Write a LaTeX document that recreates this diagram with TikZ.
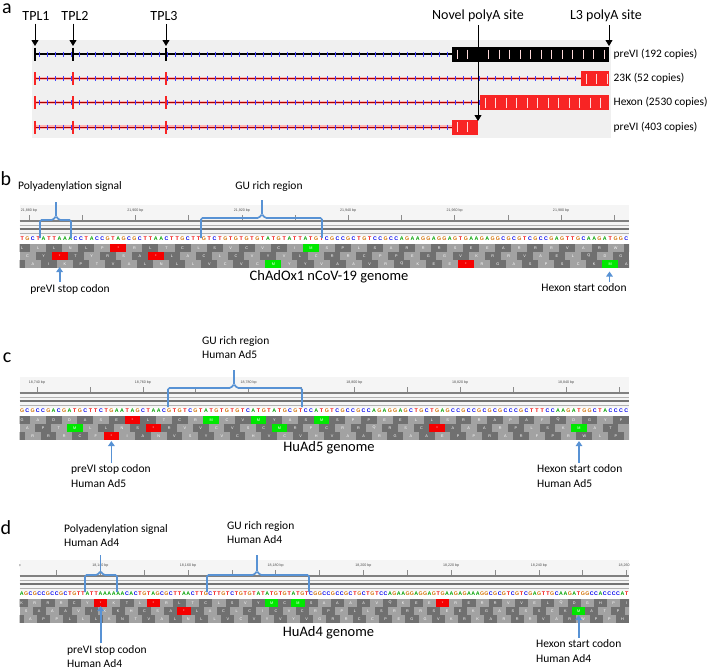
\documentclass[tikz,border=0pt]{standalone}
\usepackage{fontspec}
\setmainfont{Carlito}
\newfontfamily\seqfont{Liberation Sans}
\usetikzlibrary{arrows.meta}
\definecolor{baseA}{RGB}{0,160,0}
\definecolor{baseC}{RGB}{0,0,235}
\definecolor{baseG}{RGB}{209,113,5}
\definecolor{baseT}{RGB}{240,0,0}
\definecolor{codon0}{RGB}{112,112,112}
\definecolor{codon1}{RGB}{162,162,162}
\definecolor{stopred}{RGB}{245,0,0}
\definecolor{metgreen}{RGB}{0,232,0}
\definecolor{braceblue}{RGB}{88,146,212}
\definecolor{trackred}{RGB}{248,36,36}
\definecolor{intronblue}{RGB}{60,60,255}
\tikzset{
  panellabel/.style={font=\fontsize{20}{20}\selectfont, inner sep=0pt},
  tplabel/.style  ={font=\fontsize{14}{16}\selectfont, inner sep=1pt},
  copylabel/.style={font=\fontsize{11.4}{14}\selectfont, anchor=west, inner sep=0.5pt},
  note/.style     ={font=\fontsize{11.5}{14.5}\selectfont, align=left, inner sep=1pt},
  genomelab/.style={font=\fontsize{14.5}{16}\selectfont, inner sep=1pt},
  blkarrow/.style ={-{Triangle[length=6pt,width=7pt]}, line width=0.8pt, black, shorten <=2pt},
  codonarrow/.style={-{Triangle[length=5pt,width=6.5pt]}, line width=1.8pt, braceblue, shorten <=1pt},
  brace/.style    ={draw=braceblue, line width=1.7pt, rounded corners=1.5pt},
  trackbg/.style  ={fill=black!6},
  intronblk/.style={line width=1.1pt, black},
  intronhalo/.style={line width=3.6pt, red!30},
  intronred/.style={line width=0.7pt, red!65!black},
  introntick/.style={line width=0.45pt, intronblue},
  exonblk/.style  ={black},
  exonred/.style  ={trackred},
  exonbox/.style  ={fill=trackred},
  boxmark/.style  ={line width=0.5pt, white!85!red},
  rulerbg/.style  ={fill=black!4},
  rulertick/.style={draw=black!45, line width=0.5pt},
  rulerlab/.style ={font=\seqfont\fontsize{3.6}{4}\selectfont, text=black!70, inner sep=0pt},
  rulerline/.style={black!50, line width=1.1pt},
  rulerthin/.style={black!30, line width=0.5pt},
  rulerband/.style={black!55, line width=2.2pt},
  base/.style     ={font=\seqfont\bfseries\fontsize{5.3}{5}\selectfont, inner sep=0pt},
  codon/.style    ={minimum height=8pt, inner sep=0pt, text=white,
                    font=\seqfont\fontsize{3.8}{4}\selectfont},
  aa*/.style={fill=stopred},
  aaM/.style={fill=metgreen},
  aa-/.style={text opacity=0},
}
% sequence track: #1 y of bases, #2 pitch, #3 bases, #4-#6 frames, #7 first tick, #8 tick step, #9 ruler labels
\newcommand\seqtrack[9]{%
  \begin{scope}
    \clip (19.5,#1-34) rectangle (629,#1+29);
    \fill[rulerbg] (19.5,#1-34) rectangle (629,#1-3);
    \foreach \j in {0,...,15}
      \draw[rulertick] ({#7+\j*#8},#1-24) -- ++(0,6);
    \foreach \lab [count=\j from 0] in {#9}
      \node[rulerlab] (tick-#1-\j) at ({#7+2*\j*#8},#1-28) {\lab};
    \draw[rulerline] (19.5,#1-18) -- (629,#1-18);
    \draw[rulerthin] (19.5,#1-13.5) -- (629,#1-13.5);
    \draw[rulerband] (19.5,#1-10) -- (629,#1-10);
    \draw[rulerthin] (19.5,#1-6) -- (629,#1-6);
    \foreach \b [count=\i] in #3
      \node[base, text=base\b] (nt-#1-\i) at ({19.5+(\i-0.5)*#2},#1) {\b};
    \foreach \a [count=\k from 0] in #4 {
      \pgfmathtruncatemacro\sh{mod(\k,2)}
      \node[codon, minimum width=3*#2, fill=codon\sh, aa\a/.try] (aa-#1-1-\k) at ({19.5+(3*\k+0.5)*#2},#1+9) {\a};
    }
    \foreach \a [count=\k from 0] in #5 {
      \pgfmathtruncatemacro\sh{mod(\k+1,2)}
      \node[codon, minimum width=3*#2, fill=codon\sh, aa\a/.try] (aa-#1-2-\k) at ({19.5+(3*\k+1.5)*#2},#1+17) {\a};
    }
    \foreach \a [count=\k from 0] in #6 {
      \pgfmathtruncatemacro\sh{mod(\k,2)}
      \node[codon, minimum width=3*#2, fill=codon\sh, aa\a/.try] (aa-#1-3-\k) at ({19.5+(3*\k-0.5)*#2},#1+25) {\a};
    }
  \end{scope}}
% ChAdOx1
\def\seqB{T,G,C,T,A,T,T,A,A,A,C,C,T,A,C,C,G,T,A,G,C,G,C,T,T,A,A,C,T,T,%
G,C,T,T,G,T,C,T,G,T,G,T,G,T,G,T,A,T,G,T,A,T,T,A,T,G,T,C,G,C,%
C,G,C,T,G,T,C,C,G,C,C,A,G,A,A,G,G,A,G,G,A,G,T,G,A,A,G,A,G,G,%
C,G,C,G,T,C,G,C,C,G,A,G,T,T,G,C,A,A,G,A,T,G,G,C}
\def\rowBa{L,L,L,N,L,P,*,R,L,T,C,L,S,V,C,V,C,I,M,S,P,L,S,A,R,R,R,S,E,E,A,R,R,R,V,A,R,W,-}
\def\rowBb{C,Y,*,T,Y,R,S,A,*,L,A,C,L,C,V,Y,V,L,C,R,R,C,P,P,E,G,G,V,K,R,R,V,A,E,L,Q,D,G}
\def\rowBc{-,A,I,K,P,T,V,A,L,N,L,L,V,C,V,C,M,Y,Y,V,A,A,V,R,Q,K,E,E,*,R,G,A,S,P,S,C,K,M,A}
% HuAd5
\def\seqC{G,C,G,C,C,G,A,C,G,A,T,G,C,T,T,C,T,G,A,A,T,A,G,C,T,A,A,C,G,T,%
G,T,C,G,T,A,T,G,T,G,T,G,T,C,A,T,G,T,A,T,G,C,G,T,C,C,A,T,G,T,%
C,G,C,C,G,C,C,A,G,A,G,G,A,G,C,T,G,C,T,G,A,G,C,C,G,C,C,G,C,G,%
C,G,C,C,C,G,C,T,T,T,C,C,A,A,G,A,T,G,G,C,T,A,C,C,C,C}
\def\rowCa{G,A,D,D,A,S,E,*,L,T,C,R,M,C,V,M,Y,A,S,M,S,P,P,E,E,L,L,S,R,R,A,P,A,F,Q,D,G,Y,P}
\def\rowCb{A,P,T,M,L,L,N,S,*,R,V,V,C,V,S,C,M,R,P,C,R,R,Q,R,S,C,*,A,A,A,R,P,L,S,K,M,A,T,-}
\def\rowCc{-,R,R,R,C,F,*,I,A,N,V,S,Y,V,C,H,V,C,V,H,V,A,A,R,G,A,A,E,P,P,R,A,R,F,P,R,W,L,P,-}
% HuAd4
\def\seqD{A,G,C,G,C,C,G,C,C,G,C,T,G,T,T,A,T,T,A,A,A,A,A,A,C,A,C,T,G,T,%
A,G,C,G,C,T,T,A,A,C,T,T,G,C,T,T,G,T,C,T,G,T,G,T,A,T,A,T,G,T,%
G,T,A,T,G,T,C,G,G,C,C,G,C,C,G,C,T,G,C,T,G,T,C,C,A,G,A,A,G,G,%
A,G,G,A,G,T,G,A,A,G,A,G,A,A,A,G,G,C,G,C,G,T,C,G,T,C,G,A,G,T,%
T,G,C,A,A,G,A,T,G,G,C,C,A,C,C,C,C,A,T}
\def\rowDa{K,R,R,R,C,Y,*,K,T,L,*,R,L,T,C,L,S,V,Y,M,C,M,S,A,A,A,A,V,Q,K,E,E,*,R,E,R,R,V,V,E,L,Q,D,G,H,P,I}
\def\rowDb{S,A,A,A,V,I,K,K,H,C,S,A,*,L,A,C,L,C,I,C,V,C,R,P,P,L,L,S,R,R,R,S,E,E,K,G,A,S,S,S,C,K,M,A,T,P,-}
\def\rowDc{-,A,P,P,L,L,L,K,N,T,V,A,L,N,L,L,V,C,V,Y,V,Y,V,G,R,R,C,C,P,E,G,G,V,K,R,K,A,R,R,R,V,A,R,W,P,P,H}
\begin{document}
\begin{tikzpicture}[x=1pt, y=-1pt]
\useasboundingbox (0,0) rectangle (709,670);
% ---------- a: transcripts
\node[panellabel] (pa) at (7,9) {a};
\fill[trackbg] (32,40) rectangle (611,138);
\draw[intronblk] (35,54) -- (452,54);
\foreach \x in {39,47,...,447} \draw[introntick] (\x,51.5) -- (\x,56.5);
\foreach \x/\w in {35/1.2,73/2.6,166/2.6} \draw[exonblk, line width=\w pt] (\x,47.5) -- (\x,60.5);
\fill[black] (452,46.5) rectangle (609,61.5);
\foreach \x in {457,467.5,...,605} \draw[boxmark] (\x,49.5) -- (\x,58.5);
\foreach \ty/\xe in {78.5/581,102.5/480,127/452} {
  \draw[intronhalo] (34,\ty) -- (\xe,\ty);
  \draw[intronred] (34,\ty) -- (\xe,\ty);
  \foreach \x in {39,47,...,575} {\ifdim\x pt<\xe pt \draw[introntick] (\x,\ty-2.5) -- (\x,\ty+2.5);\fi}
  \foreach \x/\w in {35/1.2,73/2.6,166/2.6} \draw[exonred, line width=\w pt] (\x,\ty-6.5) -- (\x,\ty+6.5);
}
\foreach \ty/\xs/\xe in {78.5/581/609,102.5/480/609,127/452/478} {
  \fill[exonbox] (\xs,\ty-7.5) rectangle (\xe,\ty+7.5);
  \foreach \x in {5,15.5,...,160} {\pgfmathsetmacro\xm{\xs+\x}\ifdim\xm pt<\xe pt \draw[boxmark] (\xm,\ty-5) -- (\xm,\ty+5);\fi}
}
\node[copylabel] (cp1) at (613,54)    {preVI (192 copies)};
\node[copylabel] (cp2) at (613,78.5)  {23K (52 copies)};
\node[copylabel] (cp3) at (613,102.5) {Hexon (2530 copies)};
\node[copylabel] (cp4) at (613,127)   {preVI (403 copies)};
\node[tplabel] (tpl1)  at (36,16)  {TPL1};
\node[tplabel] (tpl2)  at (75,16)  {TPL2};
\node[tplabel] (tpl3)  at (164,16) {TPL3};
\node[tplabel] (novel) at (478,16) {Novel polyA site};
\node[tplabel] (lthree) at (606,16) {L3 polyA site};
\coordinate (tpl1tip) at (35,46);
\coordinate (tpl2tip) at (73,46);
\coordinate (tpl3tip) at (166,46);
\coordinate (novtip)  at (478,121);
\coordinate (l3tip)   at (609,46);
\draw[blkarrow] (tpl1.south -| tpl1tip) -- (tpl1tip);
\draw[blkarrow] (tpl2.south -| tpl2tip) -- (tpl2tip);
\draw[blkarrow] (tpl3.south -| tpl3tip) -- (tpl3tip);
\draw[blkarrow] (novel.south -| novtip) -- (novtip);
\draw[blkarrow] (lthree.south -| l3tip) -- (l3tip);
% ---------- b: ChAdOx1
\node[panellabel] (pb) at (6,179) {b};
\seqtrack{239}{5.346}{\seqB}{\rowBa}{\rowBb}{\rowBc}{29}{53.2}{{21,880 bp},{21,900 bp},{21,920 bp},{21,940 bp},{21,960 bp},{21,980 bp}}
\node[note] (bpoly) at (70,186)  {Polyadenylation signal};
\node[note] (bgu)   at (269,186) {GU rich region};
\draw[brace] (40,238) -- (40,220) -- (53,220) -- (56,216) -- (59,220) -- (71,220) -- (71,238);
\draw[brace] (56,216) -- (56,202);
\draw[brace] (201,238) -- (201,218) -- (259,218) -- (262,214) -- (265,218) -- (322,218) -- (322,238);
\draw[brace] (262,214) -- (262,200);
\node[genomelab] (bgen) at (329,277) {ChAdOx1 nCoV-19 genome};
\node[note] (bstop) at (70,289)  {preVI stop codon};
\node[note] (bhex)  at (584,288) {Hexon start codon};
\coordinate (bstoptip) at (59.6,267);
\coordinate (bhextip)  at (609.5,271.5);
\draw[codonarrow] (bstop.north -| bstoptip) -- (bstoptip);
\draw[codonarrow] (bhex.north -| bhextip) -- (bhextip);
% ---------- c: HuAd5
\node[panellabel] (pc) at (7,358) {c};
\seqtrack{411}{5.254}{\seqC}{\rowCa}{\rowCb}{\rowCc}{37}{52.9}{{18,740 bp},{18,760 bp},{18,780 bp},{18,800 bp},{18,820 bp},{18,840 bp}}
\node[note, anchor=west] (cgu) at (201,347.5) {GU rich region\\Human Ad5};
\draw[brace] (168,407) -- (168,388) -- (231,388) -- (234,384) -- (237,388) -- (302,388) -- (302,407);
\draw[brace] (234,384) -- (234,370);
\node[genomelab] (cgen) at (329,448) {HuAd5 genome};
\node[note, anchor=west] (cstop) at (70,476)  {preVI stop codon\\Human Ad5};
\node[note, anchor=west] (chex)  at (536,476) {Hexon start codon\\Human Ad5};
\coordinate (cstoptip) at (111.4,441);
\coordinate (chextip)  at (579,441);
\draw[codonarrow] (cstop.north -| cstoptip) -- (cstoptip);
\draw[codonarrow] (chex.north -| chextip) -- (chextip);
% ---------- d: HuAd4
\node[panellabel] (pd) at (6,528) {d};
\seqtrack{594}{4.385}{\seqD}{\rowDa}{\rowDb}{\rowDc}{12.6}{43.85}{{18,120 bp},{18,140 bp},{18,160 bp},{18,180 bp},{18,200 bp},{18,220 bp},{18,240 bp},{18,260 bp}}
\node[note, anchor=west] (dpoly) at (63,535.5)  {Polyadenylation signal\\Human Ad4};
\node[note, anchor=west] (dgu)   at (226,532.5) {GU rich region\\Human Ad4};
\draw[brace] (85,592) -- (85,575) -- (97.5,575) -- (100.5,571) -- (103.5,575) -- (117,575) -- (117,592);
\draw[brace] (100.5,571) -- (100.5,555);
\draw[brace] (207,592) -- (207,575) -- (254,575) -- (257,571) -- (260,575) -- (309,575) -- (309,592);
\draw[brace] (257,571) -- (257,555);
\node[genomelab] (dgen) at (328.5,633) {HuAd4 genome};
\node[note, anchor=west] (dstop) at (66,656.5)  {preVI stop codon\\Human Ad4};
\node[note, anchor=west] (dhex)  at (535,651) {Hexon start codon\\Human Ad4};
\coordinate (dstoptip) at (100.6,606);
\coordinate (dhextip)  at (578.6,615);
\draw[codonarrow] (dstop.north -| dstoptip) -- (dstoptip);
\draw[codonarrow] (dhex.north -| dhextip) -- (dhextip);
\end{tikzpicture}
\end{document}
